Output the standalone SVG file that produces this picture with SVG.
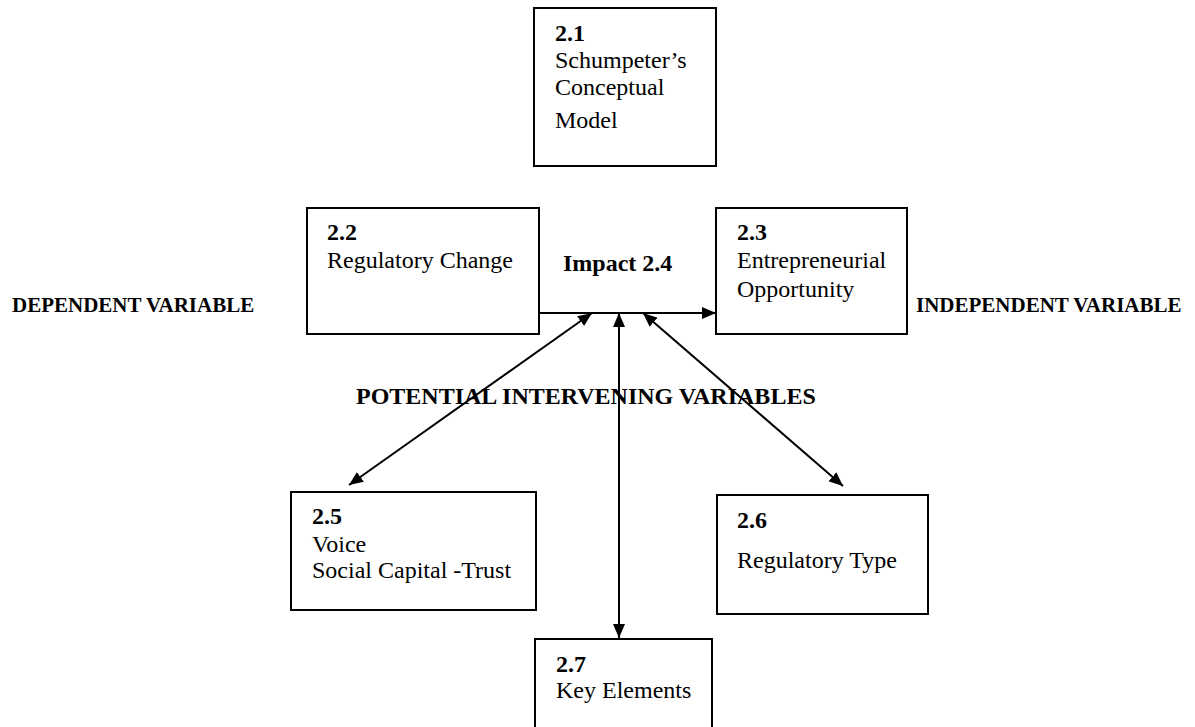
<svg xmlns="http://www.w3.org/2000/svg" width="1195" height="727" viewBox="0 0 1195 727">
  <style>
    .box { fill: #ffffff; stroke: #000000; stroke-width: 2; }
    .num { font-family: "Liberation Serif", "Times New Roman", serif; font-size: 24px; font-weight: bold; fill: #000; }
    .txt { font-family: "Liberation Serif", "Times New Roman", serif; font-size: 24px; fill: #000; }
    .lbl { font-family: "Liberation Serif", "Times New Roman", serif; font-size: 21px; font-weight: bold; fill: #000; }
    .big { font-family: "Liberation Serif", "Times New Roman", serif; font-size: 24px; font-weight: bold; fill: #000; }
    .link { stroke: #000000; stroke-width: 2; fill: none; }
  </style>
  <defs>
    <marker id="arrow" viewBox="0 0 14 12" markerUnits="userSpaceOnUse" markerWidth="14" markerHeight="12" refX="14" refY="6" orient="auto-start-reverse">
      <path d="M0,0 L14,6 L0,12 z" fill="#000000"/>
    </marker>
  </defs>
  <rect width="1195" height="727" fill="#ffffff"/>

  <g id="connectors">
    <path class="link" d="M539,313 L716,313" marker-end="url(#arrow)"/>
    <path class="link" d="M349,485 L592,313" marker-start="url(#arrow)" marker-end="url(#arrow)"/>
    <path class="link" d="M619,313 L619,638" marker-start="url(#arrow)" marker-end="url(#arrow)"/>
    <path class="link" d="M643,313 L843,486" marker-start="url(#arrow)" marker-end="url(#arrow)"/>
  </g>

  <g id="node-2-1">
    <rect class="box" x="534" y="8" width="182" height="158"/>
    <text class="num" x="555" y="41">2.1</text>
    <text class="txt" x="555" y="68">Schumpeter’s</text>
    <text class="txt" x="555" y="95">Conceptual</text>
    <text class="txt" x="555" y="128">Model</text>
  </g>

  <g id="node-2-2">
    <rect class="box" x="307" y="208" width="232" height="126"/>
    <text class="num" x="327" y="240">2.2</text>
    <text class="txt" x="327" y="268">Regulatory Change</text>
  </g>

  <g id="node-2-3">
    <rect class="box" x="716" y="208" width="191" height="126"/>
    <text class="num" x="737" y="240">2.3</text>
    <text class="txt" x="737" y="268">Entrepreneurial</text>
    <text class="txt" x="737" y="297">Opportunity</text>
  </g>

  <g id="label-impact">
    <text class="big" x="563" y="271">Impact 2.4</text>
  </g>
  <g id="label-dependent">
    <text class="lbl" x="12" y="312">DEPENDENT VARIABLE</text>
  </g>
  <g id="label-independent">
    <text class="lbl" x="916" y="312">INDEPENDENT VARIABLE</text>
  </g>
  <g id="label-intervening">
    <text class="big" x="356" y="404">POTENTIAL INTERVENING VARIABLES</text>
  </g>

  <g id="node-2-5">
    <rect class="box" x="291" y="492" width="245" height="118"/>
    <text class="num" x="312" y="524">2.5</text>
    <text class="txt" x="312" y="552">Voice</text>
    <text class="txt" x="312" y="578">Social Capital -Trust</text>
  </g>

  <g id="node-2-6">
    <rect class="box" x="717" y="495" width="211" height="119"/>
    <text class="num" x="737" y="528">2.6</text>
    <text class="txt" x="737" y="568">Regulatory Type</text>
  </g>

  <g id="node-2-7">
    <rect class="box" x="535" y="639" width="177" height="100"/>
    <text class="num" x="556" y="672">2.7</text>
    <text class="txt" x="556" y="698">Key Elements</text>
  </g>
</svg>
